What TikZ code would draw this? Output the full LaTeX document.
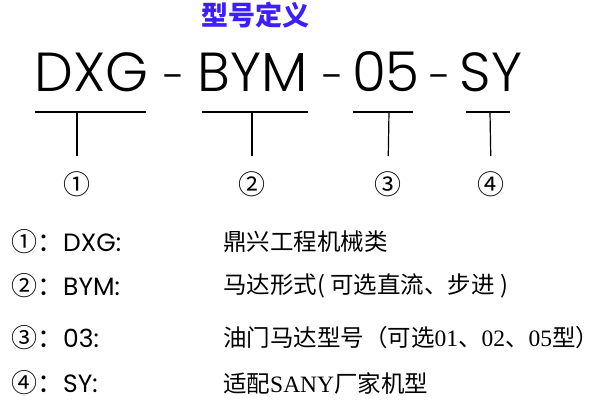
\documentclass[tikz,border=0pt]{standalone}
\usepackage{fontspec}
\setmainfont{Liberation Serif}
\newfontfamily\cjk{Noto Sans CJK SC}
\newfontfamily\code{Poppins Light}
\newfontfamily\keyfont{Poppins}
\definecolor{titleblue}{RGB}{60,30,255}

\begin{document}
\begin{tikzpicture}[
        x=1pt, y=-1pt,
        title/.style={font=\cjk\bfseries\fontsize{27}{30}\selectfont, text=titleblue, inner sep=0pt},
        code/.style={font=\code\fontsize{55}{60}\selectfont, anchor=base, inner sep=0pt},
        hyph/.style={code, font=\code\fontsize{42}{46}\selectfont},
        bar/.style={line width=1.2pt},
        stem/.style={bar, shorten >=15pt},
        circnum/.style={font=\cjk\fontsize{27}{30}\selectfont, inner sep=0pt},
        key/.style={anchor=west, inner sep=0pt, font=\fontsize{25}{28}\selectfont},
        desc/.style={anchor=west, inner sep=0pt, font=\cjk\fontsize{23.5}{26}\selectfont}
      ]
        \useasboundingbox (0,0) rectangle (605,412);

        % Title
        \node[title] (title) at (255,15) {型号定义};

        % Model code
        \node[code] (dxg) at (92,92) {DXG};
        \node[hyph] (hyph1) at (174.5,92) {-};
        \node[code] (bym) at (252.5,92) {BYM};
        \node[hyph] (hyph2) at (333.5,92) {-};
        \node[code] (num) at (386,92) {05};
        \node[hyph] (hyph3) at (440,92) {-};
        \node[code] (sy) at (491,92) {SY};

        % Markers
        \node[circnum] (n1) at (77,184) {①};
        \node[circnum] (n2) at (252,184) {②};
        \node[circnum] (n3) at (388,184) {③};
        \node[circnum] (n4) at (491,184) {④};

        % Brackets
        \coordinate (t1) at (77,112);
        \coordinate (t2) at (252,112);
        \coordinate (t3) at (389,112);
        \coordinate (t4) at (490,112);
        \draw[bar] (35,112) -- (146,112);
        \draw[bar] (202,112) -- (308,112);
        \draw[bar] (353,112) -- (413,112);
        \draw[bar] (466,112) -- (510,112);
        \draw[stem] (t1) -- (n1.north);
        \draw[stem] (t2) -- (n2.north);
        \draw[stem] (t3) -- (n3.north);
        \draw[stem] (t4) -- (n4.north);

        % Legend - keys
        \node[key] (k1) at (11,242) {{\cjk\fontsize{26}{28}\selectfont ①：}\keyfont DXG:};
        \node[key] (k2) at (11,286) {{\cjk\fontsize{26}{28}\selectfont ②：}\keyfont BYM:};
        \node[key] (k3) at (11,338) {{\cjk\fontsize{26}{28}\selectfont ③：}\keyfont 03:};
        \node[key] (k4) at (11,383) {{\cjk\fontsize{26}{28}\selectfont ④：}\keyfont SY:};

        % Legend - meanings
        \node[desc] (d1) at (223,242) {鼎兴工程机械类};
        \node[desc] (d2) at (223,286) {马达形式( 可选直流、步进 )};
        \node[desc] (d3) at (223,338) {油门马达型号（可选{\rmfamily 01}、{\rmfamily 02}、{\rmfamily 05}型）};
        \node[desc] (d4) at (223,383) {适配{\rmfamily SANY}厂家机型};
      \end{tikzpicture}
\end{document}
